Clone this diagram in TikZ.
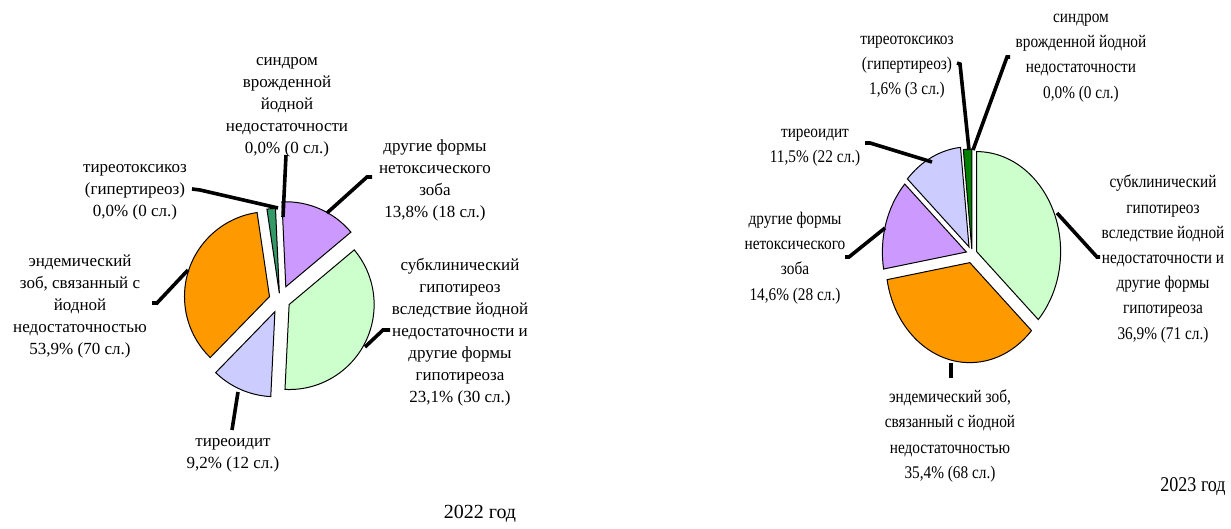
\documentclass[tikz,border=0pt]{standalone}
\usepackage{fontspec}
\setmainfont{Liberation Serif}
\newfontfamily\narrowserif[FakeStretch=0.86]{Liberation Serif}

\definecolor{subgreen}{HTML}{CCFFCC}
\definecolor{endorange}{HTML}{FF9900}
\definecolor{formviolet}{HTML}{CC99FF}
\definecolor{thyrlav}{HTML}{CCCCFF}
\definecolor{toxgreen}{HTML}{339966}
\definecolor{toxgreenb}{HTML}{008000}

% one exploded slice of a unit pie: start, end, colour, offset
\newcommand{\pieslice}[4]{%
    \filldraw[fill=#3, draw=black, line width=0.5pt]
        ({(#1+#2)/2}:#4) -- +(#1:1) arc[start angle=#1, end angle=#2, radius=1] -- cycle;
}

\begin{document}
\begin{tikzpicture}[
            x = 0.5pt, y = -0.5pt, % one unit per pixel, y downwards
            leader/.style = {line width = 1.8pt},
            lbl/.style = {align = center, inner sep = 0pt,
                font = \fontsize{8.5}{11}\selectfont},
            rlbl/.style = {align = center, inner sep = 0pt,
                font = \narrowserif\fontsize{8.9}{12.6}\selectfont}
        ]

        \useasboundingbox (0,0) rectangle (1231,529);

        % 2022
        \begin{scope}[shift = {(280,300)}, xscale = 85, yscale = -85]
            \foreach \a/\b/\c/\e in {40/92.6/formviolet/0.17, 92.6/98.4/toxgreen/0.08,
                    98.4/225.8/endorange/0.13, 225.8/267.2/thyrlav/0.15,
                    267.2/400/subgreen/0.12}
                {\pieslice{\a}{\b}{\c}{\e}}
        \end{scope}

        \node[lbl] (l-synd) at (287,107) {синдром\\врожденной\\йодной\\недостаточности\\0,0\% (0 сл.)};
        \node[lbl] (l-tox) at (135,192) {тиреотоксикоз\\(гипертиреоз)\\0,0\% (0 сл.)};
        \node[lbl] (l-form) at (435,180) {другие формы\\нетоксического\\зоба\\13,8\% (18 сл.)};
        \node[lbl] (l-endem) at (80,306) {эндемический\\зоб, связанный с\\йодной\\недостаточностью\\53,9\% (70 сл.)};
        \node[lbl] (l-subcl) at (460,332) {субклинический\\гипотиреоз\\вследствие йодной\\недостаточности и\\другие формы\\гипотиреоза\\23,1\% (30 сл.)};
        \node[lbl] (l-thyr) at (233,455) {тиреоидит\\9,2\% (12 сл.)};
        \node[font = \fontsize{10}{12}\selectfont] (l-year) at (480,514) {2022 год};

        \coordinate (l-synd-t) at (286,155);   \coordinate (l-synd-p) at (283,217);
        \coordinate (l-tox-t) at (192,189);    \coordinate (l-tox-p) at (278,208);
        \coordinate (l-form-t) at (372,177);   \coordinate (l-form-p) at (327,213);
        \coordinate (l-endem-t) at (152,303);  \coordinate (l-endem-p) at (188,270);
        \coordinate (l-subcl-t) at (390,330);  \coordinate (l-subcl-p) at (365,347);
        \coordinate (l-thyr-t) at (232,430);   \coordinate (l-thyr-p) at (238,392);

        \draw[leader] (l-synd-t) -- (l-synd-p);
        \draw[leader] (l-tox-t) -- ++(8,1) -- (l-tox-p);
        \draw[leader] (l-form-t) -- ++(-5,0) -- (l-form-p);
        \draw[leader] (l-endem-t) -- ++(5,0) -- (l-endem-p);
        \draw[leader] (l-subcl-t) -- ++(-7,0) -- (l-subcl-p);
        \draw[leader] (l-thyr-t) -- (l-thyr-p);

        % 2023
        \begin{scope}[shift = {(972,254)}, xscale = 84, yscale = -100]
            \foreach \a/\b/\c/\e in {-42.8/90/subgreen/0.06, 90/95.8/toxgreenb/0.05,
                    95.8/137.2/thyrlav/0.08, 137.2/189.8/formviolet/0.07,
                    189.8/317.2/endorange/0.09}
                {\pieslice{\a}{\b}{\c}{\e}}
        \end{scope}

        \node[rlbl] (r-synd) at (1081,58) {синдром\\врожденной йодной\\недостаточности\\0,0\% (0 сл.)};
        \node[rlbl] (r-tox) at (907,67) {тиреотоксикоз\\(гипертиреоз)\\1,6\% (3 сл.)};
        \node[rlbl] (r-thyr) at (815,148) {тиреоидит\\11,5\% (22 сл.)};
        \node[rlbl] (r-form) at (795,258) {другие формы\\нетоксического\\зоба\\14,6\% (28 сл.)};
        \node[rlbl] (r-subcl) at (1163,259) {субклинический\\гипотиреоз\\вследствие йодной\\недостаточности и\\другие формы\\гипотиреоза\\36,9\% (71 сл.)};
        \node[rlbl] (r-endem) at (950,436) {эндемический зоб,\\связанный с йодной\\недостаточностью\\35,4\% (68 сл.)};
        \node[rlbl, font = \narrowserif\fontsize{10.5}{12}\selectfont] (r-year) at (1193,487) {2023 год};

        \coordinate (r-synd-t) at (1010,57);   \coordinate (r-synd-p) at (973,150);
        \coordinate (r-tox-t) at (957,63);     \coordinate (r-tox-p) at (969,150);
        \coordinate (r-thyr-t) at (865,143);   \coordinate (r-thyr-p) at (932,162);
        \coordinate (r-form-t) at (845,257);   \coordinate (r-form-p) at (885,228);
        \coordinate (r-subcl-t) at (1100,257); \coordinate (r-subcl-p) at (1057,213);
        \coordinate (r-endem-t) at (951,378);  \coordinate (r-endem-p) at (951,363);

        \draw[leader] (r-synd-t) -- ++(-3,0) -- (r-synd-p);
        \draw[leader] (r-tox-t) -- ++(3,1) -- (r-tox-p);
        \draw[leader] (r-thyr-t) -- ++(5,0) -- (r-thyr-p);
        \draw[leader] (r-form-t) -- ++(4,0) -- (r-form-p);
        \draw[leader] (r-subcl-t) -- ++(-3,0) -- (r-subcl-p);
        \draw[leader] (r-endem-t) -- (r-endem-p);

\end{tikzpicture}
\end{document}
